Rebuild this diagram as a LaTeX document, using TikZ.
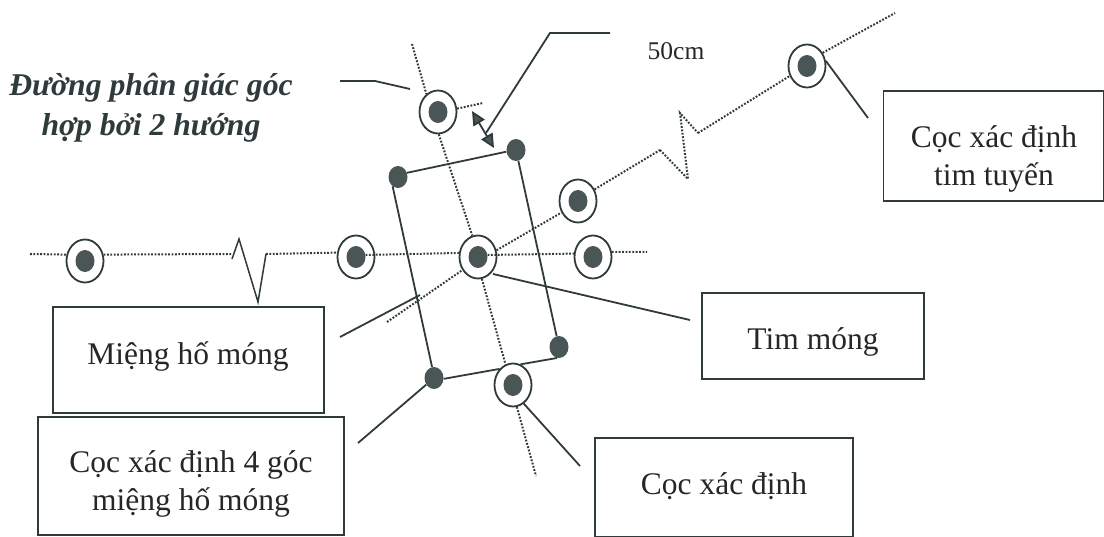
\documentclass[tikz,border=0pt]{standalone}
\usepackage{fontspec}
\setmainfont{Liberation Serif}
\usetikzlibrary{shapes.geometric,arrows.meta}
\definecolor{ink}{HTML}{2F3A3A}
\definecolor{dotc}{HTML}{4A5555}
\tikzset{
  x=1pt,y=-1pt,
  ring/.style={draw=ink,ellipse,line width=1.8pt,inner sep=0pt,minimum width=37pt,minimum height=43pt},
  pin/.style={fill=dotc,draw=none,ellipse,inner sep=0pt,minimum width=19pt,minimum height=22pt},
  boxn/.style={draw=ink,line width=1.7pt,rectangle,inner sep=0pt},
  lab/.style={font=\fontsize{31.5}{37.5}\selectfont,align=center,text=black!85,inner sep=0pt},
  dotl/.style={draw=ink,line width=2pt,dash pattern=on 1.8pt off 1.6pt},
  sol/.style={draw=ink,line width=1.8pt},
}
\newcommand{\stake}[2]{\node[ring] (#1) at (#2) {};\node[pin] (#1p) at (#2) {};}
\newcommand{\corner}[2]{\node[pin] (#1) at (#2) {};}
\begin{document}
\begin{tikzpicture}
\useasboundingbox (0,0) rectangle (1104,537);
% free ends
\coordinate (hL) at (30,254);
\coordinate (hZ1) at (232,254);
\coordinate (hZa) at (232,259);
\coordinate (hZb) at (239,239);
\coordinate (hZc) at (258,302);
\coordinate (hZd) at (266,254);
\coordinate (hR) at (647,252);
\coordinate (dL) at (387,322);
\coordinate (dZa) at (660,150);
\coordinate (dZb) at (688,179);
\coordinate (dZc) at (680,113);
\coordinate (dZd) at (698,133);
\coordinate (dR) at (895,13);
\coordinate (aT) at (412,44);
\coordinate (aB) at (536,476);
\coordinate (sE) at (483,103);
\coordinate (arA) at (472,111);
\coordinate (arB) at (494,148);
% stakes
\stake{s1}{85,261}
\stake{s2}{356,257}
\stake{s3}{478,257}
\stake{s4}{593,257}
\stake{s5}{578,201}
\stake{s6}{807,66}
\stake{s7}{438,112}
\stake{s8}{513,385}
\corner{tl}{398,177}
\corner{tr}{516,150}
\corner{br}{559,347}
\corner{bl}{434,378}
% dotted lines
\draw[dotl] (hL) -- (s1.161);
\draw[dotl] (s1.19) -- (hZ1);
\draw[dotl] (hZd) -- (s2.167);
\draw[dotl] (s2p.12) -- (s3.168);
\draw[dotl] (s3p.12) -- (s4.170);
\draw[dotl] (s4.15) -- (hR);
\draw[dotl] (dL) -- (s3.-140);
\draw[dotl] (s3.20) -- (s5.-145);
\draw[dotl] (s5.35) -- (dZa);
\draw[dotl] (dZa) -- (dZb) -- (dZc) -- (dZd);
\draw[dotl] (dZd) -- (s6.-150);
\draw[dotl] (s6.40) -- (dR);
\draw[dotl] (aT) -- (s7.123);
\draw[dotl] (s7.-88) -- (s3.105);
\draw[dotl] (s3.-80) -- (s8.110);
\draw[dotl] (s8.-80) -- (aB);
\draw[dotl] (s7.10) -- (sE);
% break in the horizontal line
\draw[sol,line width=1.5pt] (hZa) -- (hZb) -- (hZc) -- (hZd);
% pit outline
\draw[sol] (tl.25) -- (tr.190);
\draw[sol] (tr) -- (br);
\draw[sol] (tl.240) -- (bl.100);
\draw[sol] (bl.-5) -- (s8.130);
\draw[sol] (s8.70) -- (br.-100);
% 50 cm dimension
\draw[sol,{Triangle[length=14pt,width=13pt,fill=dotc]}-{Triangle[length=14pt,width=13pt,fill=dotc]}] (arA) -- (arB);
% boxes
\node[boxn,minimum width=271pt,minimum height=106pt] (b1) at (188.5,360) {};
\node[boxn,minimum width=306pt,minimum height=118pt] (b2) at (191,476) {};
\node[boxn,minimum width=258pt,minimum height=99pt] (b3) at (724,487.5) {};
\node[boxn,minimum width=222pt,minimum height=86pt] (b4) at (813,336) {};
\node[boxn,minimum width=220pt,minimum height=110pt] (b5) at (993.5,146) {};
% labels
\node[lab] (t1) at (188,356) {Miệng hố móng};
\node[lab] (t2) at (191,484) {Cọc xác định 4 góc\\miệng hố móng};
\node[lab] (t3) at (724,486) {Cọc xác định};
\node[lab] (t4) at (813,342) {Tim móng};
\node[lab] (t5) at (994,159) {Cọc xác định\\tim tuyến};
\node[lab,font=\fontsize{25.5}{30}\selectfont] (t6) at (676,51) {50cm};
\node[lab,font=\bfseries\itshape\fontsize{31.7}{40}\selectfont,text=ink] (t7) at (151,108) {Đường phân giác góc\\hợp bởi 2 hướng};
% leaders
\coordinate (l1a) at (340,81);
\coordinate (l1b) at (375,81);
\coordinate (l1c) at (410,89);
\draw[sol] (l1a) -- (l1b) -- (l1c);
\coordinate (l2a) at (610,33);
\coordinate (l2b) at (550,33);
\coordinate (l2c) at (486,133);
\draw[sol] (l2a) -- (l2b) -- (l2c);
\coordinate (l3) at (868,118);
\draw[sol] (s6.15) -- (l3);
\coordinate (l4a) at (493,274);
\coordinate (l4b) at (690,320);
\draw[sol] (l4a) -- (l4b);
\coordinate (l5a) at (340,337);
\coordinate (l5b) at (420,295);
\draw[sol] (l5a) -- (l5b);
\coordinate (l6) at (358,443);
\draw[sol] (bl) -- (l6);
\coordinate (l7) at (580,466);
\draw[sol] (s8.-60) -- (l7);
\end{tikzpicture}
\end{document}
